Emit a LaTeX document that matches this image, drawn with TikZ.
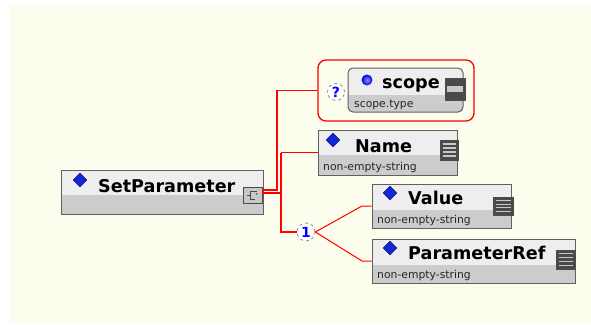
\documentclass[tikz,border=0pt]{standalone}
\usepackage{fontspec}
\setmainfont{DejaVu Sans}
\usetikzlibrary{shapes.geometric,fit,calc}
\definecolor{cream}{RGB}{253,253,237}
\definecolor{boxline}{RGB}{96,96,96}
\definecolor{headfill}{RGB}{238,238,238}
\definecolor{bandfill}{RGB}{204,204,204}
\definecolor{icondark}{RGB}{74,74,74}
\definecolor{iconlight}{RGB}{200,200,200}
\definecolor{diamblue}{RGB}{20,40,210}
\definecolor{conn}{RGB}{255,0,0}
\tikzset{
  elemframe/.style={draw=boxline, line width=1pt, inner sep=0pt, rectangle},
  title/.style={anchor=base west, inner sep=0pt, font=\bfseries\fontsize{17.6}{18}\selectfont},
  typetext/.style={anchor=base west, inner sep=0pt, font=\fontsize{10.8}{11}\selectfont, text=black!85},
  elemdiamond/.style={diamond, fill=diamblue, draw=blue!50!black, line width=0.4pt, inner sep=0pt, minimum width=14pt, minimum height=14pt},
  connector/.style={draw=conn, line width=1.3pt},
  compositor/.style={circle, draw=gray, dashed, fill=white, line width=0.7pt, inner sep=0pt, minimum size=18pt, text=blue, font=\bfseries\fontsize{14}{14}\selectfont},
}
% element box: name, left, top, right, bottom, band top
\newcommand\xsdelem[6]{%
  \fill[headfill] (#2,#3) rectangle (#4,#6);
  \fill[bandfill] (#2,#6) rectangle (#4,#5);
  \node[elemframe, fit={(#2,#3) (#4,#5)}] (#1) {};
}
% documentation icon: name, left, top, right, bottom
\newcommand\docicon[5]{%
  \node[fill=icondark, draw=black!70, line width=0.5pt, inner sep=0pt, fit={(#2,#3) (#4,#5)}] (#1) {};
  \foreach \k in {1,2,3,4}
    \draw[iconlight, line width=1.2pt] ($(#2,#3)!{\k/5}!(#2,#5)+(2.5,0)$) -- ($(#4,#3)!{\k/5}!(#4,#5)+(-2.5,0)$);
}
\begin{document}
\begin{tikzpicture}[x=1pt,y=-1pt]
\useasboundingbox (0,0) rectangle (591,324);
\fill[white] (0,0) rectangle (591,324);
\fill[cream] (10,6) rectangle (591,323);

% ---- SetParameter ----
\xsdelem{setp}{61}{170}{263}{214}{195}
\node[elemdiamond] (setpd) at (80,180) {};
\node[title] (setpt) at (98,192) {SetParameter};
\node[fill=iconlight, draw=icondark, line width=0.8pt, inner sep=0pt, fit={(243,187) (262,203)}] (seq) {};
\draw[icondark, line width=0.9pt] (257,191) -- (250,191) -- (250,199) -- (255,199);
\draw[icondark, line width=0.9pt] (250,195) -- (247,195);
\fill[icondark] (256.5,194) circle (0.9);

% ---- scope (optional attribute group) ----
\node[draw=conn, line width=1.3pt, rounded corners=8pt, inner sep=0pt, fit={(318,60) (474,121)}] (scopegrp) {};
\begin{scope}
  \clip[rounded corners=5pt] (348,68) rectangle (463,112);
  \fill[headfill] (348,68) rectangle (463,95);
  \fill[bandfill] (348,95) rectangle (463,112);
\end{scope}
\node[draw=boxline, line width=1pt, rounded corners=5pt, inner sep=0pt, fit={(348,68) (463,112)}] (scope) {};
\shade[inner color=blue!45!white, outer color=blue!90!black] (367,80) circle (5.5);
\node[title] (scopet) at (382,88) {scope};
\node[typetext] (scopety) at (354,107) {scope.type};
\node[fill=icondark, draw=black!70, line width=0.5pt, inner sep=0pt, fit={(445,78) (465,100)}] (scopeic) {};
\fill[iconlight] (447,86) rectangle (463,92);
\node[compositor, minimum size=17pt] (opt) at (336,92) {?};

% ---- Name ----
\xsdelem{name}{318}{130}{457}{175}{155}
\node[elemdiamond] (named) at (333,140) {};
\node[title] (namet) at (355,152) {Name};
\node[typetext] (namety) at (323,170) {non-empty-string};
\docicon{nameic}{440}{140}{458}{160}

% ---- Value ----
\xsdelem{value}{372}{184}{511}{228}{210}
\node[elemdiamond] (valued) at (390,193) {};
\node[title] (valuet) at (408,204) {Value};
\node[typetext] (valuety) at (377,223) {non-empty-string};
\docicon{valueic}{493}{197}{513}{215}

% ---- ParameterRef ----
\xsdelem{pref}{372}{239}{575}{283}{265}
\node[elemdiamond] (prefd) at (390,248) {};
\node[title] (preft) at (408,259) {ParameterRef};
\node[typetext] (prefty) at (377,278) {non-empty-string};
\docicon{prefic}{556}{250}{575}{269}

% ---- choice compositor ----
\node[compositor] (choice) at (306,232) {1};

% ---- connectors ----
\coordinate (j1) at (277,190);
\coordinate (j2) at (281,193);
\draw[connector] (seq.east |- j1) -- (j1) |- (scopegrp.west);
\draw[connector] (seq.east |- j2) -- (j2);
\draw[connector] (j2 |- name.west) -- (name.west);
\draw[connector] (j2 |- name.west) |- (choice.west);
\coordinate (v1) at (362,206);
\coordinate (p1) at (362,261);
\draw[connector, line width=1pt] (choice.east) -- (v1) -- (v1 -| value.west);
\draw[connector, line width=1pt] (choice.east) -- (p1) -- (p1 -| pref.west);
\end{tikzpicture}
\end{document}
